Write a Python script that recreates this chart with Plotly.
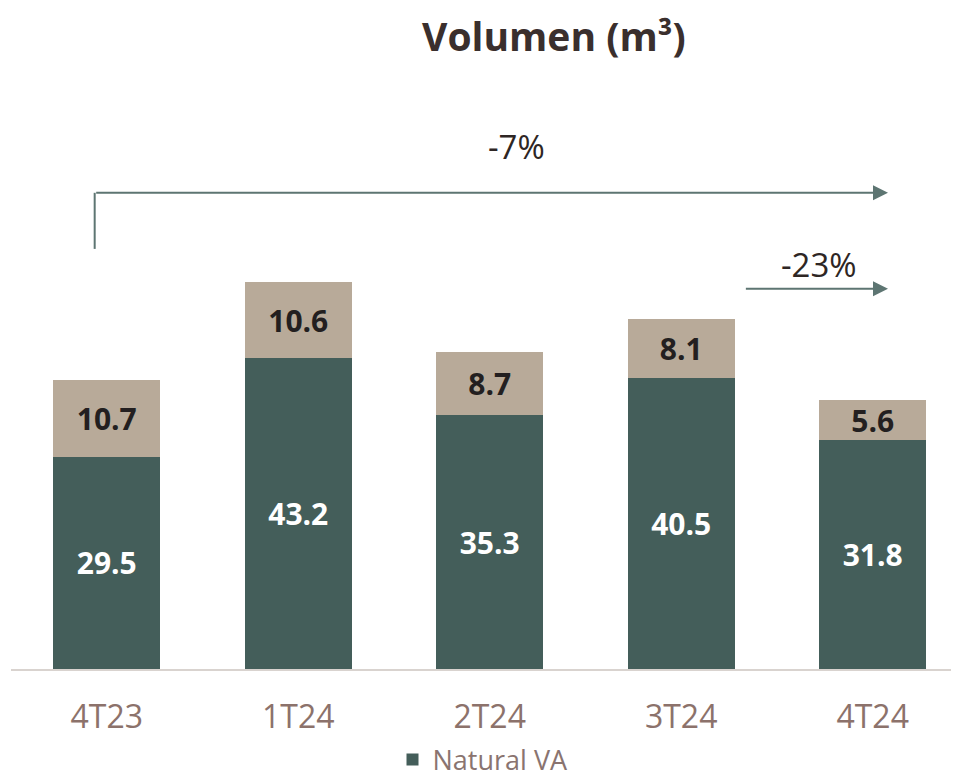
import plotly.graph_objects as go

quarters = ["4T23", "1T24", "2T24", "3T24", "4T24"]
natural_va = [29.5, 43.2, 35.3, 40.5, 31.8]
other_va = [10.7, 10.6, 8.7, 8.1, 5.6]

GREEN = "#445e5a"
BEIGE = "#b8aa99"
DARK = "#2e2624"
TICK = "#8c726b"
ARROW = "#5d7572"
FONT = "Open Sans, sans-serif"

fig = go.Figure()
fig.add_trace(go.Bar(
    x=quarters, y=natural_va, name="Natural VA",
    marker=dict(color=GREEN, line=dict(width=0)),
    text=[f"{v:.1f}" for v in natural_va],
    textposition="inside", insidetextanchor="middle", constraintext="none",
    textfont=dict(family=FONT, size=30, color="white", weight="bold"),
    width=0.56,
))
fig.add_trace(go.Bar(
    x=quarters, y=other_va, name="", showlegend=False,
    marker=dict(color=BEIGE, line=dict(width=0)),
    text=[f"{v:.1f}" for v in other_va],
    textposition="inside", insidetextanchor="middle", constraintext="none",
    textfont=dict(family=FONT, size=30, color="#231f20", weight="bold"),
    width=0.56,
))

# growth arrows
fig.add_shape(type="line", x0=-0.063, x1=-0.063, y0=58.4, y1=66.2,
              xref="x", yref="y", line=dict(color=ARROW, width=2))
fig.add_annotation(x=4.08, y=66.2, ax=-0.063, ay=66.2, xref="x", yref="y",
                   axref="x", ayref="y", text="", showarrow=True,
                   arrowhead=2, arrowsize=1.5, arrowwidth=2, arrowcolor=ARROW)
fig.add_annotation(x=2.14, y=72.6, xref="x", yref="y", text="-7%", showarrow=False,
                   font=dict(family=FONT, size=33, color=DARK))
fig.add_annotation(x=4.08, y=52.85, ax=3.33, ay=52.85, xref="x", yref="y",
                   axref="x", ayref="y", text="", showarrow=True,
                   arrowhead=2, arrowsize=1.5, arrowwidth=2, arrowcolor=ARROW)
fig.add_annotation(x=3.72, y=56.3, xref="x", yref="y", text="-23%", showarrow=False,
                   font=dict(family=FONT, size=33, color=DARK))

fig.update_layout(
    width=951, height=773,
    barmode="stack", bargap=0.44,
    paper_bgcolor="white", plot_bgcolor="white",
    margin=dict(l=3, r=4, t=92, b=112, autoexpand=False),
    title=dict(text="<b>Volumen (m³)</b>", x=0.574, xanchor="center", y=0.962,
               yanchor="middle", font=dict(family=FONT, size=39, color="#3a2f2d")),
    legend=dict(orientation="h", x=0.5, xanchor="center", y=-0.16, yanchor="middle",
                font=dict(family=FONT, size=27, color="#8a7470"),
                itemwidth=30, traceorder="normal"),
    showlegend=True,
)
fig.update_xaxes(range=[-0.5, 4.43], showline=True, linecolor="#d9d3cf", linewidth=2,
                 ticks="", tickfont=dict(family=FONT, size=32, color=TICK), ticklabelstandoff=19)
fig.update_yaxes(range=[0, 79.1], visible=False, showgrid=False, zeroline=False)

fig.write_html("out.html")
